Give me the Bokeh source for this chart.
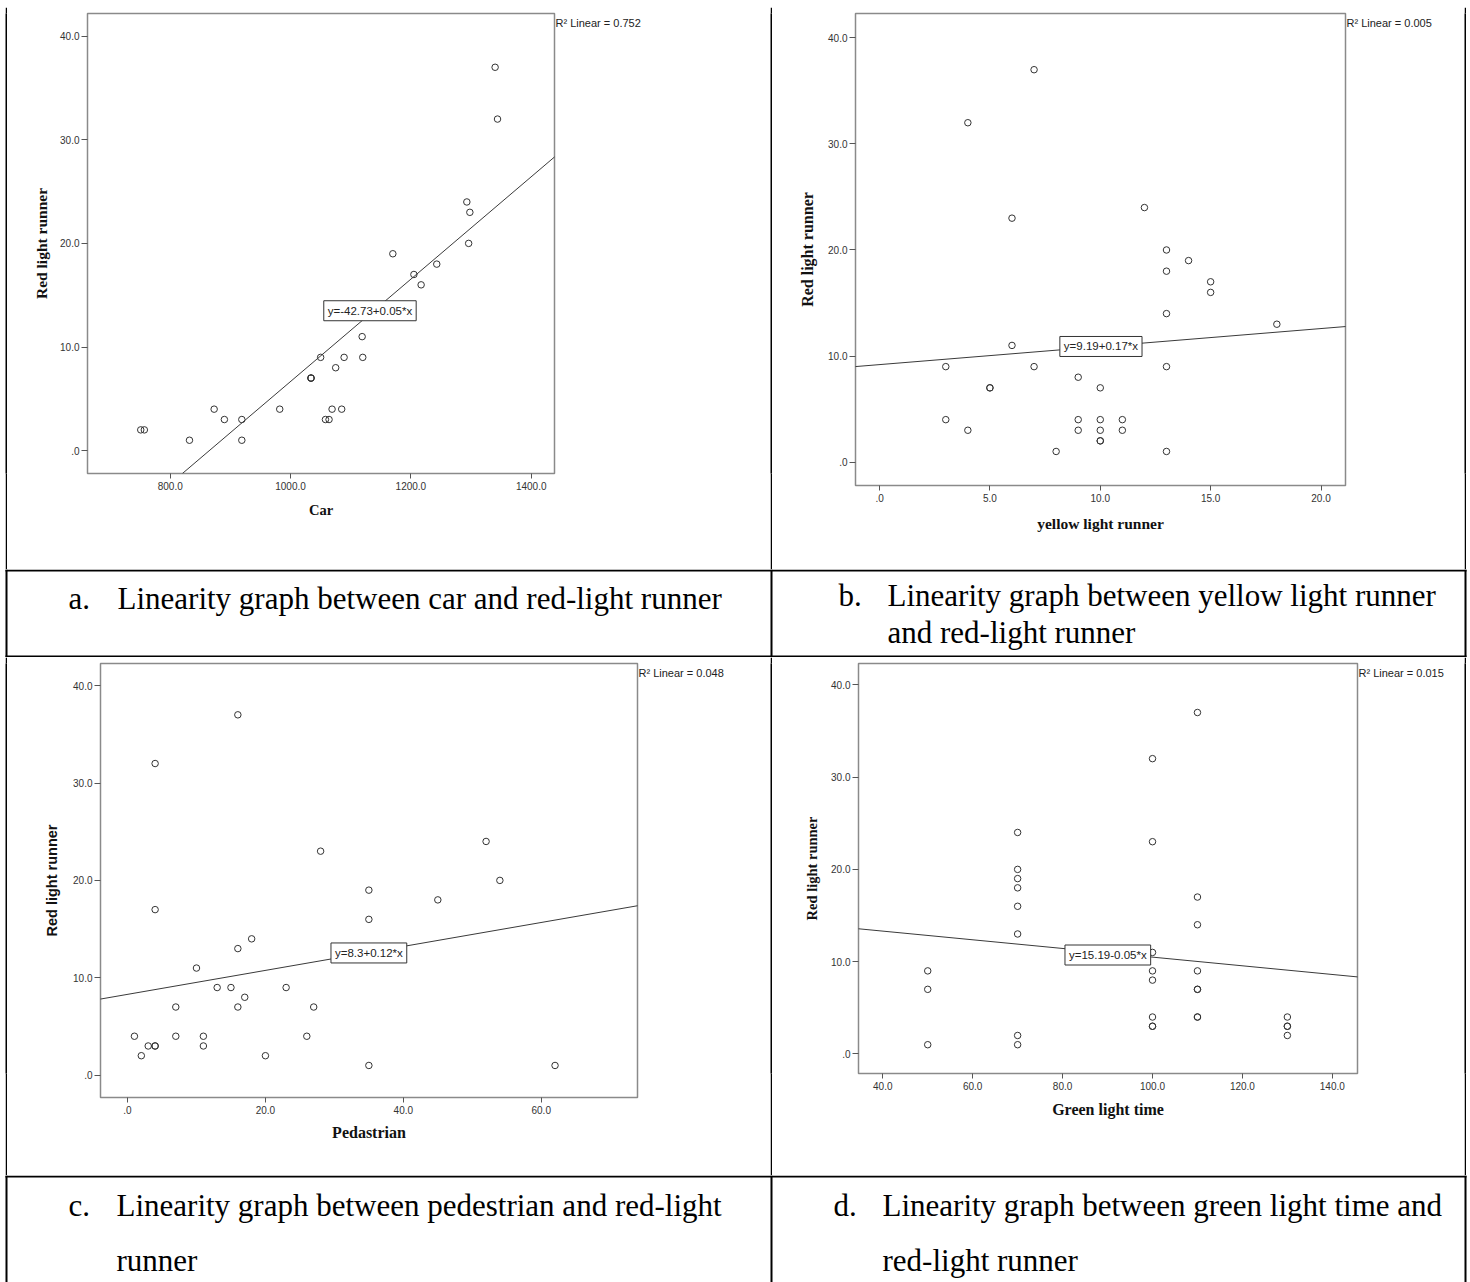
from bokeh.plotting import figure
from bokeh.models import Range1d, FixedTicker, Label, Slope, LinearAxis
from bokeh.layouts import column, row
from bokeh.embed import file_html
from bokeh.resources import INLINE
from bokeh.core.properties import value

# ---------------- data ----------------
# panel a: Car vs Red light runner (two points hidden behind the equation box are not visible)
car = [1340, 1344, 1293, 1298, 1296, 1170, 1243, 1205, 1217, 1119, 1120, 1050, 1089, 1075,
       1034, 1034, 1034, 982, 1069, 1085, 1058, 1064, 873, 890, 919, 919, 832, 751, 757]
red_a = [37, 32, 24, 23, 20, 19, 18, 17, 16, 11, 9, 9, 9, 8,
         7, 7, 7, 4, 4, 4, 3, 3, 4, 3, 3, 1, 1, 2, 2]

# red light runner for panels b, c, d (same observation order)
red_runner = [37, 32, 24, 23, 20, 19, 18, 17, 16, 14, 13, 11, 9, 9, 9, 8, 7, 7, 7,
              4, 4, 4, 4, 3, 3, 3, 3, 2, 2, 1, 1]
yellow = [7, 4, 12, 6, 13, 14, 13, 15, 15, 13, 18, 6, 3, 7, 13, 9, 5, 5, 10,
          3, 9, 10, 11, 4, 9, 10, 11, 10, 10, 8, 13]
pedestrian = [16, 4, 52, 28, 54, 35, 45, 4, 35, 18, 16, 10, 13, 15, 23, 17, 7, 16, 27,
              1, 7, 11, 26, 3, 4, 4, 11, 2, 20, 35, 62]
green = [110, 100, 70, 100, 70, 70, 70, 110, 70, 110, 70, 100, 50, 100, 110, 100, 50, 110, 110,
         100, 110, 110, 130, 100, 100, 130, 130, 70, 130, 50, 70]

# fitted lines (intercept, slope) and their printed equations / R2
fit_intercept = [-42.73, 9.19, 8.3, 15.19]
fit_slope = [0.0494, 0.17, 0.123, -0.047]
fit_text = ["y=-42.73+0.05*x", "y=9.19+0.17*x", "y=8.3+0.12*x", "y=15.19-0.05*x"]
r2_text = ["R² Linear = 0.752", "R² Linear = 0.005", "R² Linear = 0.048", "R² Linear = 0.015"]
eq_pos_x = [1132, 10.03, 35.0, 90.06]
eq_pos_y = [13.5, 10.9, 12.55, 10.72]

# ticks
y_ticks = [0, 10, 20, 30, 40]
y_tick_labels = [".0", "10.0", "20.0", "30.0", "40.0"]
xa_ticks = [800, 1000, 1200, 1400]
xa_labels = ["800.0", "1000.0", "1200.0", "1400.0"]
xb_ticks = [0, 5, 10, 15, 20]
xb_labels = [".0", "5.0", "10.0", "15.0", "20.0"]
xc_ticks = [0, 20, 40, 60]
xc_labels = [".0", "20.0", "40.0", "60.0"]
xd_ticks = [40, 60, 80, 100, 120, 140]
xd_labels = ["40.0", "60.0", "80.0", "100.0", "120.0", "140.0"]

x_titles = ["Car", "yellow light runner", "Pedastrian", "Green light time"]
y_title = "Red light runner"

cap_letters = ["a.", "b.", "c.", "d."]
cap_a = ["Linearity graph between car and red-light runner"]
cap_b = ["Linearity graph between yellow light runner", "and red-light runner"]
cap_c = ["Linearity graph between pedestrian and red-light", "runner"]
cap_d = ["Linearity graph between green light time and", "red-light runner"]

SERIF = "Liberation Serif"
SANS = "Liberation Sans"
CAP_SIZE = "31px"


def plain(w, h, color="white"):
    p = figure(width=w, height=h, min_border=0, toolbar_location=None, output_backend="svg",
               x_axis_location=None, y_axis_location=None,
               x_range=Range1d(0, w), y_range=Range1d(h, 0))
    p.grid.visible = False
    p.outline_line_color = None
    p.background_fill_color = color
    p.border_fill_color = color
    return p


def chart(i, xv, yv, xr, yr, cell_w, cell_h, L, T, fw, fh, xt, xtl,
          xfont, xsize, xstand, yfont, ysize, ystand):
    p = figure(frame_width=fw, frame_height=fh,
               min_border_left=L, min_border_top=T,
               min_border_right=cell_w - L - fw, min_border_bottom=cell_h - T - fh,
               x_range=Range1d(*xr), y_range=Range1d(*yr),
               toolbar_location=None, output_backend="svg")
    p.grid.visible = False
    p.background_fill_color = "white"
    p.border_fill_color = "white"
    p.outline_line_color = "#8a8a8a"
    p.outline_line_width = 1.5

    p.scatter(xv, yv, marker="circle", size=6.5, fill_color=None,
              line_color="#333333", line_width=1)
    p.add_layout(Slope(gradient=fit_slope[i], y_intercept=fit_intercept[i],
                       line_color="#3a3a3a", line_width=1))
    p.add_layout(Label(x=eq_pos_x[i], y=eq_pos_y[i], text=fit_text[i],
                       text_align="center", text_baseline="middle",
                       text_font=SANS, text_font_size="11.5px", text_color="#222222",
                       background_fill_color="white", border_line_color="#333333",
                       border_line_width=1, padding=4))

    # R2 note beside the top right corner of the frame (as a label-only right axis)
    ytop = round(yr[1] - 9.5 * (yr[1] - yr[0]) / fh, 3)
    ra = LinearAxis(ticker=FixedTicker(ticks=[ytop]),
                    major_label_overrides={ytop: r2_text[i]},
                    axis_line_color=None, major_tick_line_color=None,
                    major_tick_in=0, major_tick_out=0, minor_tick_line_color=None,
                    major_label_standoff=1, major_label_text_font=SANS,
                    major_label_text_font_size="11px", major_label_text_color="#222222")
    p.add_layout(ra, "right")

    for ax in (p.xaxis[0], p.yaxis[0]):
        ax.axis_line_color = "#8a8a8a"
        ax.axis_line_width = 1
        ax.major_tick_line_color = "#555555"
        ax.major_tick_in = 0
        ax.minor_tick_line_color = None
        ax.major_label_text_font = SANS
        ax.major_label_text_font_size = "10px"
        ax.major_label_text_color = "#333333"
        ax.axis_label_text_font_style = "bold"
        ax.axis_label_text_color = "#111111"

    xa = p.xaxis[0]
    xa.ticker = FixedTicker(ticks=xt)
    xa.major_label_overrides = dict(zip(xt, xtl))
    xa.major_tick_out = 5
    xa.major_label_standoff = 3
    xa.axis_label = x_titles[i]
    xa.axis_label_text_font = xfont
    xa.axis_label_text_font_size = xsize
    xa.axis_label_standoff = xstand

    ya = p.yaxis[0]
    ya.ticker = FixedTicker(ticks=y_ticks)
    ya.major_label_overrides = dict(zip(y_ticks, y_tick_labels))
    ya.major_tick_out = 6
    ya.major_label_standoff = 2
    ya.axis_label = y_title
    ya.axis_label_text_font = yfont
    ya.axis_label_text_font_size = ysize
    ya.axis_label_standoff = ystand
    return p


def vline(h):
    return plain(2, h, "black")


# ---------------- top strip (y 0..7) ----------------
top = plain(1470, 7)
top.quad(left=[5, 640, 1433, 5, 770, 1464], right=[20, 777, 1466, 7, 772, 1466],
         top=[5, 5, 5, 5, 5, 5], bottom=[7, 7, 7, 7, 7, 7],
         fill_color="black", line_color=None)

# ---------------- chart row 1 (y 7..569) ----------------
H1 = 562
pa = chart(0, car, red_a, (662.5, 1438.7), (-2.21, 42.19), 763, H1, 80, 6, 467, 460,
           xa_ticks, xa_labels, SERIF, "14.5px", 9, SERIF, "15.5px", 7)
pb = chart(1, yellow, red_runner, (-1.09, 21.11), (-2.21, 42.30), 692, H1, 83, 6, 490, 472,
           xb_ticks, xb_labels, SERIF, "15.5px", 10, SERIF, "16px", 9)
row1 = row(plain(5, H1), vline(H1), pa, vline(H1), pb, vline(H1), plain(4, H1))

# ---------------- caption row 1 (y 569..657) ----------------
c1 = plain(1470, 88)
c1.quad(left=[5, 5, 5, 770, 1464], right=[1466, 1466, 7, 772, 1466],
        top=[0, 86, 0, 0, 0], bottom=[2, 88, 88, 88, 88],
        fill_color="black", line_color=None)
c1.text(x=[68, 117, 838, 887, 887], y=[29, 29, 26, 26, 63],
        text=[cap_letters[0], cap_a[0], cap_letters[1], cap_b[0], cap_b[1]],
        text_font=value(SERIF), text_font_size=CAP_SIZE, text_color="black",
        text_align="left", text_baseline="alphabetic")

# ---------------- chart row 2 (y 657..1175) ----------------
H2 = 518
pc = chart(2, pedestrian, red_runner, (-3.92, 73.96), (-2.29, 42.27), 763, H2, 93, 6, 537, 434,
           xc_ticks, xc_labels, SERIF, "16px", 7, SANS, "14.5px", 10)
pd_ = chart(3, green, red_runner, (34.6, 145.6), (-2.12, 42.31), 692, H2, 86, 6, 499, 410,
            xd_ticks, xd_labels, SERIF, "16px", 8, SERIF, "14.5px", 8)
row2 = row(plain(5, H2), vline(H2), pc, vline(H2), pd_, vline(H2), plain(4, H2))

# ---------------- caption row 2 (y 1175..1282) ----------------
c2 = plain(1470, 107)
c2.quad(left=[5, 5, 770, 1464], right=[1466, 7, 772, 1466],
        top=[0, 0, 0, 0], bottom=[2, 107, 107, 107],
        fill_color="black", line_color=None)
c2.text(x=[68, 116, 116, 833, 882, 882], y=[30, 30, 85, 30, 30, 85],
        text=[cap_letters[2], cap_c[0], cap_c[1], cap_letters[3], cap_d[0], cap_d[1]],
        text_font=value(SERIF), text_font_size=CAP_SIZE, text_color="black",
        text_align="left", text_baseline="alphabetic")

layout = column(top, row1, c1, row2, c2)
open("out.html", "w").write(file_html(layout, INLINE))
